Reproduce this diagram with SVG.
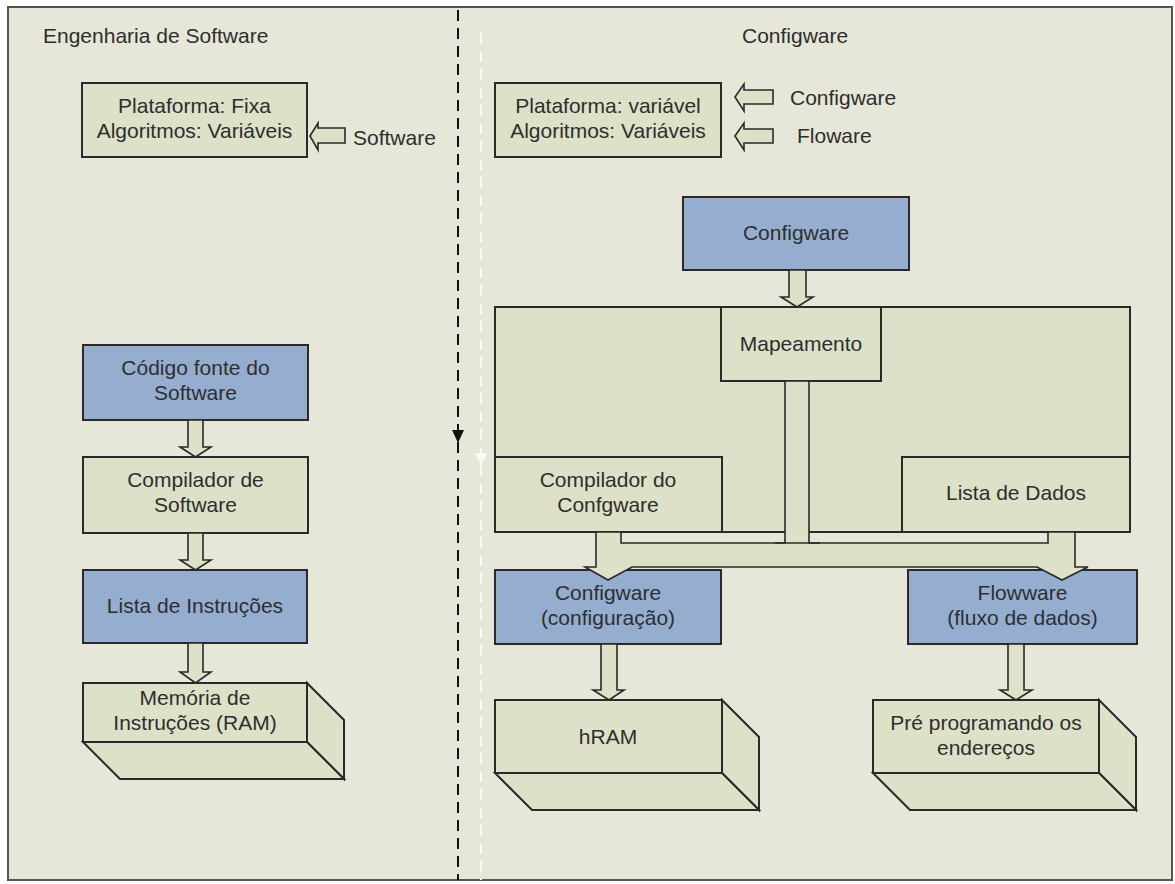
<svg xmlns="http://www.w3.org/2000/svg" width="1175" height="884" viewBox="0 0 1175 884">
<style>
.t{font-family:"Liberation Sans",Arial,sans-serif;font-size:21px;fill:#2e2e2e}
.m{text-anchor:middle}
.bx{fill:#dde1c8;stroke:#2a2a2a;stroke-width:2}
.bl{fill:#95aed0;stroke:#2a2a2a;stroke-width:2}
.ar{fill:#dde1c8;stroke:#2a2a2a;stroke-width:1.6;stroke-linejoin:miter}
</style>
<rect x="0" y="0" width="1175" height="884" fill="#ffffff"/>
<rect x="8" y="7" width="1164" height="873" fill="#e6e7d8" stroke="#555" stroke-width="2"/>

<!-- divider lines -->
<g id="dividers">
<line x1="458" y1="10" x2="458" y2="880" stroke="#111" stroke-width="2" stroke-dasharray="11 7"/>
<polygon points="452,430 464,430 458,443" fill="#111"/>
<line x1="481" y1="33" x2="481" y2="880" stroke="#fafaf2" stroke-width="2" stroke-dasharray="11 7"/>
<polygon points="475,453 487,453 481,466" fill="#fafaf2"/>
</g>

<g id="titles">
<text class="t" x="43" y="43">Engenharia de Software</text>
<text class="t" x="742" y="43">Configware</text>
</g>

<g id="left-platform">
<rect class="bx" x="82" y="83" width="225" height="74"/>
<text class="t m" x="194.5" y="113">Plataforma: Fixa</text>
<text class="t m" x="194.5" y="138">Algoritmos: Variáveis</text>
</g>
<g id="right-platform">
<rect class="bx" x="495" y="83" width="226" height="74"/>
<text class="t m" x="608" y="113">Plataforma: variável</text>
<text class="t m" x="608" y="138">Algoritmos: Variáveis</text>
</g>

<g id="labels">
<text class="t" x="353" y="145">Software</text>
<text class="t" x="790" y="105">Configware</text>
<text class="t" x="797" y="143">Floware</text>
</g>

<!-- left column -->
<g id="codigo">
<rect class="bl" x="83" y="345" width="225" height="75"/>
<text class="t m" x="195.5" y="375">Código fonte do</text>
<text class="t m" x="195.5" y="400">Software</text>
</g>
<g id="compilador-sw">
<rect class="bx" x="83" y="457" width="225" height="76"/>
<text class="t m" x="195.5" y="487">Compilador de</text>
<text class="t m" x="195.5" y="512">Software</text>
</g>
<g id="lista-instr">
<rect class="bl" x="83" y="570" width="224" height="73"/>
<text class="t m" x="195" y="613">Lista de Instruções</text>
</g>
<g id="memoria">
<polygon class="bx" points="307,683 344,720 344,779 307,742"/>
<polygon class="bx" points="83,742 307,742 344,779 120,779"/>
<rect class="bx" x="83" y="683" width="224" height="59"/>
<text class="t m" x="195" y="705">Memória de</text>
<text class="t m" x="195" y="730">Instruções (RAM)</text>
</g>

<!-- right column -->
<g id="configware-src">
<rect class="bl" x="683" y="197" width="226" height="73"/>
<text class="t m" x="796" y="240">Configware</text>
</g>
<g id="frame">
<rect class="bx" x="495" y="307" width="635" height="225"/>
</g>
<g id="mapeamento">
<rect class="bx" x="721" y="307" width="160" height="74"/>
<text class="t m" x="801" y="351">Mapeamento</text>
</g>
<g id="compilador-cfg">
<rect class="bx" x="495" y="457" width="227" height="75"/>
<text class="t m" x="608" y="487">Compilador do</text>
<text class="t m" x="608" y="512">Confgware</text>
</g>
<g id="lista-dados">
<rect class="bx" x="902" y="457" width="228" height="75"/>
<text class="t m" x="1016" y="500">Lista de Dados</text>
</g>
<g id="configware-out">
<rect class="bl" x="495" y="570" width="226" height="74"/>
<text class="t m" x="608" y="600">Configware</text>
<text class="t m" x="608" y="625">(configuração)</text>
</g>
<g id="flowware">
<rect class="bl" x="908" y="570" width="229" height="74"/>
<text class="t m" x="1022.5" y="600">Flowware</text>
<text class="t m" x="1022.5" y="625">(fluxo de dados)</text>
</g>
<g id="hram">
<polygon class="bx" points="722,700 759,737 759,810 722,773"/>
<polygon class="bx" points="495,773 722,773 759,810 532,810"/>
<rect class="bx" x="495" y="700" width="227" height="73"/>
<text class="t m" x="608" y="744">hRAM</text>
</g>
<g id="pre">
<polygon class="bx" points="1099,700 1136,737 1136,810 1099,773"/>
<polygon class="bx" points="873,773 1099,773 1136,810 910,810"/>
<rect class="bx" x="873" y="700" width="226" height="73"/>
<text class="t m" x="986" y="730">Pré programando os</text>
<text class="t m" x="986" y="755">endereços</text>
</g>

<g id="connectors">
<!-- hollow left arrows -->
<polygon class="ar" points="310,136 318,123 318,128 345,128 345,143 318,143 318,150"/>
<polygon class="ar" points="735,97 744,84 744,90 773,90 773,104 744,104 744,111"/>
<polygon class="ar" points="735,136 744,123 744,129 773,129 773,143 744,143 744,150"/>
<!-- left column down arrows -->
<polygon class="ar" points="188,420 203,420 203,447 211,447 195.5,457 180,447 188,447"/>
<polygon class="ar" points="188,533 203,533 203,560 211,560 195.5,570 180,560 188,560"/>
<polygon class="ar" points="188,643 203,643 203,672 211,672 195.5,683 180,672 188,672"/>
<!-- configware to mapeamento -->
<polygon class="ar" points="789,270 806,270 806,297 813,297 797,307 781,297 789,297"/>
<!-- T distributor -->
<polygon class="ar" points="596,532 596,567 585,567 608,580 632,567 1037,567 1062,580 1088,567 1075,567 1075,532 1048,532 1048,543 809,543 809,381 785,381 785,543 621,543 621,532"/>
<line x1="775" y1="543" x2="820" y2="543" stroke="#2a2a2a" stroke-width="1.6"/>
<!-- lower arrows -->
<polygon class="ar" points="601,644 617,644 617,690 624,690 609,700 593,690 601,690"/>
<polygon class="ar" points="1008,644 1024,644 1024,690 1032,690 1016,700 1000,690 1008,690"/>
</g>
</svg>
